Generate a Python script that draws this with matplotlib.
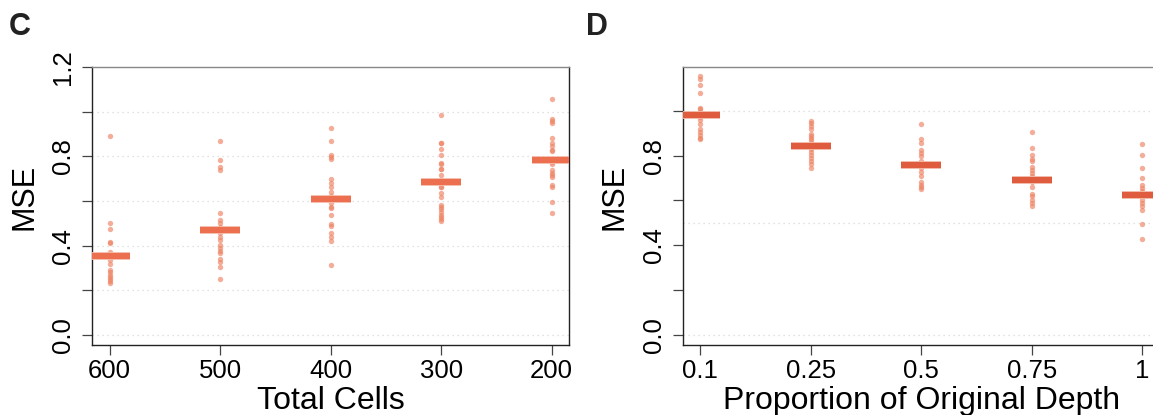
import matplotlib
import matplotlib.pyplot as plt
import matplotlib.patheffects as pe
import numpy as np

matplotlib.use("Agg")

plt.rcParams["font.family"] = ["Liberation Sans", "DejaVu Sans"]

# panel C: MSE by total cell count
cells_labels = ["600", "500", "400", "300", "200"]
cells_mse = [
    [0.890, 0.501, 0.473, 0.418, 0.413, 0.373, 0.362, 0.350, 0.336, 0.318,
     0.291, 0.280, 0.270, 0.261, 0.252, 0.243, 0.234],
    [0.868, 0.783, 0.753, 0.738, 0.544, 0.515, 0.500, 0.485, 0.467, 0.455,
     0.440, 0.425, 0.403, 0.388, 0.377, 0.365, 0.339, 0.328, 0.306, 0.251],
    [0.926, 0.868, 0.805, 0.798, 0.787, 0.697, 0.679, 0.661, 0.641, 0.622,
     0.607, 0.589, 0.574, 0.567, 0.535, 0.495, 0.488, 0.455, 0.437, 0.422, 0.313],
    [0.986, 0.860, 0.858, 0.831, 0.805, 0.771, 0.765, 0.744, 0.741, 0.716,
     0.694, 0.664, 0.661, 0.637, 0.616, 0.580, 0.574, 0.562, 0.550, 0.538,
     0.527, 0.520, 0.509],
    [1.055, 0.969, 0.959, 0.950, 0.883, 0.860, 0.847, 0.828, 0.825, 0.783,
     0.775, 0.765, 0.738, 0.726, 0.715, 0.708, 0.670, 0.664, 0.597, 0.546],
]
cells_median = [0.353, 0.468, 0.607, 0.685, 0.783]

# panel D: MSE by proportion of original depth
depth_labels = ["0.1", "0.25", "0.5", "0.75", "1"]
depth_mse = [
    [1.156, 1.144, 1.115, 1.078, 1.014, 1.010, 0.995, 0.980, 0.974, 0.959,
     0.940, 0.920, 0.905, 0.890, 0.878, 0.873],
    [0.953, 0.944, 0.932, 0.920, 0.896, 0.887, 0.878, 0.869, 0.858, 0.849,
     0.840, 0.828, 0.816, 0.804, 0.789, 0.774, 0.762, 0.747],
    [0.940, 0.873, 0.855, 0.825, 0.813, 0.798, 0.777, 0.759, 0.747, 0.729,
     0.708, 0.681, 0.670, 0.661, 0.649],
    [0.905, 0.835, 0.804, 0.786, 0.774, 0.750, 0.735, 0.723, 0.708, 0.697,
     0.681, 0.658, 0.631, 0.619, 0.604, 0.589, 0.577],
    [0.850, 0.804, 0.746, 0.702, 0.667, 0.656, 0.641, 0.626, 0.604, 0.589,
     0.574, 0.556, 0.495, 0.426],
]
depth_median = [0.980, 0.841, 0.759, 0.690, 0.626]

POINT_COLOR = "#EE8262"


def draw_panel(ax, groups, medians, labels, xlabel, grid_at, bar_color, ytop):
    x = np.arange(1, len(groups) + 1)
    for xi, vals in zip(x, groups):
        ax.scatter(np.full(len(vals), xi), vals, s=15, color=POINT_COLOR,
                   alpha=0.65, linewidths=0, zorder=3)
    ax.hlines(medians, x - 0.18, x + 0.18, colors=bar_color, linewidth=4.6,
              zorder=4, path_effects=[pe.Stroke(linewidth=5.6, foreground="#F7CFC2"),
                                      pe.Normal()])
    for g in grid_at:
        ax.axhline(g, color="#D9D9D9", linewidth=0.9, linestyle=(0, (1, 3)), zorder=1)

    ax.set_xlim(0.84, 5.16)
    ax.set_ylim(-0.045, ytop)
    ax.set_xticks(x)
    ax.set_xticklabels(labels)
    ticks = [t for t in [0.0, 0.2, 0.4, 0.6, 0.8, 1.0, 1.2] if t <= ytop + 1e-9]
    names = {0.0: "0.0", 0.4: "0.4", 0.8: "0.8", 1.2: "1.2"}
    ax.set_yticks(ticks)
    ax.set_yticklabels([names.get(t, "") for t in ticks], rotation=90, va="center")
    ax.tick_params(axis="both", length=7, width=0.9, color="#444444",
                   labelsize=18.5, pad=3)
    ax.tick_params(axis="y", pad=5)
    for side in ["left", "bottom", "right"]:
        ax.spines[side].set_color("#222222")
        ax.spines[side].set_linewidth(1.0)
    ax.spines["top"].set_color("#888888")
    ax.spines["top"].set_linewidth(1.0)
    ax.set_xlabel(xlabel, fontsize=23, labelpad=2)
    ax.set_ylabel("MSE", fontsize=22)
    ax.yaxis.set_label_coords(-0.111, 0.534)


fig = plt.figure(figsize=(11.53, 4.15), dpi=100)
ax_c = fig.add_axes([0.0798, 0.1687, 0.414, 0.670])
ax_d = fig.add_axes([0.5921, 0.1687, 0.414, 0.670])

draw_panel(ax_c, cells_mse, cells_median, cells_labels, "Total Cells",
           [0.0, 0.2, 0.4, 0.6, 0.8, 1.0], "#EC6F4F", 1.2)
draw_panel(ax_d, depth_mse, depth_median, depth_labels,
           "Proportion of Original Depth", [0.0, 0.5, 1.0], "#E05C3E", 1.196)

fig.text(0.008, 0.916, "C", fontsize=22, fontweight="bold", color="#222222")
fig.text(0.508, 0.916, "D", fontsize=22, fontweight="bold", color="#222222")

fig.savefig("out.png", dpi=100)
